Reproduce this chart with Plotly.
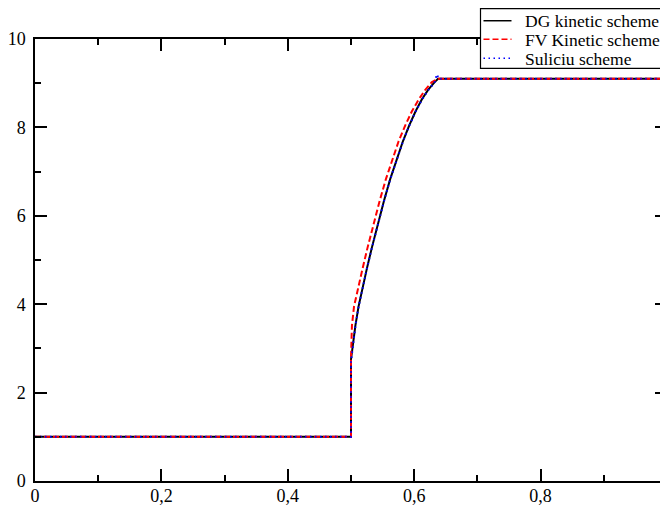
import plotly.graph_objects as go

# DG kinetic scheme (black solid)
dg_x = [0.0, 0.5, 0.5, 0.503, 0.507, 0.512, 0.518, 0.525, 0.533, 0.542, 0.552, 0.562,
        0.572, 0.582, 0.592, 0.602, 0.612, 0.622, 0.632, 0.6377, 1.0]
dg_y = [1.0, 1.0, 2.75, 3.12, 3.52, 3.95, 4.38, 4.8, 5.28, 5.8, 6.33, 6.83,
        7.28, 7.68, 8.04, 8.36, 8.63, 8.85, 9.02, 9.1, 9.1]

# FV kinetic scheme (red dashed)
fv_x = [0.0, 0.5, 0.5, 0.5015, 0.5048, 0.5112, 0.5182, 0.5262, 0.5352, 0.5452, 0.5552,
        0.5652, 0.5752, 0.5857, 0.5962, 0.607, 0.6175, 0.6275, 0.6377, 1.0]
fv_y = [1.0, 1.0, 2.8, 3.52, 3.95, 4.38, 4.8, 5.28, 5.8, 6.33, 6.83,
        7.28, 7.68, 8.04, 8.36, 8.63, 8.85, 9.02, 9.1, 9.1]

# Suliciu scheme (blue dotted)
su_x = [0.0, 0.5, 0.5, 0.503, 0.507, 0.512, 0.518, 0.525, 0.533, 0.542, 0.552, 0.562,
        0.572, 0.582, 0.592, 0.602, 0.612, 0.622, 0.632, 0.636, 0.6385, 1.0]
su_y = [1.0, 1.0, 2.7, 3.1, 3.5, 3.94, 4.37, 4.79, 5.27, 5.79, 6.32, 6.82,
        7.27, 7.67, 8.03, 8.35, 8.62, 8.84, 9.01, 9.2, 9.1, 9.1]

series_names = ["DG kinetic scheme", "FV Kinetic scheme", "Suliciu scheme"]

x_tickvals = [0, 0.2, 0.4, 0.6, 0.8, 1]
x_ticktext = ["0", "0,2", "0,4", "0,6", "0,8", ""]
x_end_label = "1"
y_tickvals = [0, 2, 4, 6, 8, 10]

FONT = "Liberation Serif"

# page body has an 8px margin; figure placed at (8, 8) on screen
W, H = 660, 498
ML, MR, MT, MB = 27, 1, 31, 24.5
PW, PH = W - ML - MR, H - MT - MB


def px(x):  # figure pixel -> paper x
    return (x - ML) / PW


def py(y):  # figure pixel -> paper y
    return 1 - (y - MT) / PH


colors = ["black", "#ff0000", "#0000ff"]
dashes = ["solid", "6px,3px", "1.5px,3.5px"]

fig = go.Figure()
for xs, ys, nm, c, d in zip([dg_x, fv_x, su_x], [dg_y, fv_y, su_y], series_names, colors, dashes):
    fig.add_trace(go.Scatter(x=xs, y=ys, mode="lines", name=nm, showlegend=False,
                             line=dict(color=c, width=2, dash=d)))

axis_common = dict(
    showgrid=False, zeroline=False, showline=True, linecolor="black", linewidth=1.5,
    mirror="ticks", ticks="inside", ticklen=12, tickwidth=1.5, tickcolor="black",
    tickfont=dict(family=FONT, size=18, color="black"), automargin=False,
)

fig.update_xaxes(range=[0, 1], tickmode="array", tickvals=x_tickvals, ticktext=x_ticktext,
                 ticklabelstandoff=-2,
                 minor=dict(dtick=0.1, tick0=0, ticks="inside", ticklen=6, tickwidth=1.5,
                            tickcolor="black"),
                 **axis_common)
fig.update_yaxes(range=[0, 10], tickmode="array", tickvals=y_tickvals, ticklabelstandoff=4,
                 minor=dict(dtick=1, tick0=0, ticks="inside", ticklen=6, tickwidth=1.5,
                            tickcolor="black"),
                 **axis_common)

# manual legend (box, line samples, labels)
shapes = [dict(type="rect", xref="paper", yref="paper",
               x0=px(472.5), x1=px(657), y0=py(0.5), y1=py(60.5),
               line=dict(color="black", width=1.2), fillcolor="white", layer="above")]
annotations = []
row_y = [12.7, 31.3, 50.3]
for nm, c, d, ry in zip(series_names, colors, dashes, row_y):
    shapes.append(dict(type="line", xref="paper", yref="paper",
                       x0=px(475.5), x1=px(503.5), y0=py(ry), y1=py(ry),
                       line=dict(color=c, width=1.5, dash=d), layer="above"))
    annotations.append(dict(xref="paper", yref="paper", x=px(514.5), y=py(ry + 0.5),
                            text=nm, showarrow=False, xanchor="left", yanchor="middle",
                            font=dict(family=FONT, size=17.5, color="black")))

# end-of-axis label "1" (half cut by the page edge, as in the reference)
annotations.append(dict(xref="x", yref="paper", x=x_tickvals[-1], y=py(487),
                        text=x_end_label, showarrow=False, xanchor="center", yanchor="middle",
                        font=dict(family=FONT, size=18, color="black")))

fig.update_layout(
    width=W, height=H,
    margin=dict(l=ML, r=MR, t=MT, b=MB),
    paper_bgcolor="white", plot_bgcolor="white",
    separators=", ",
    font=dict(family=FONT, size=18, color="black"),
    showlegend=False,
    shapes=shapes,
    annotations=annotations,
)

fig.write_html("out.html")
